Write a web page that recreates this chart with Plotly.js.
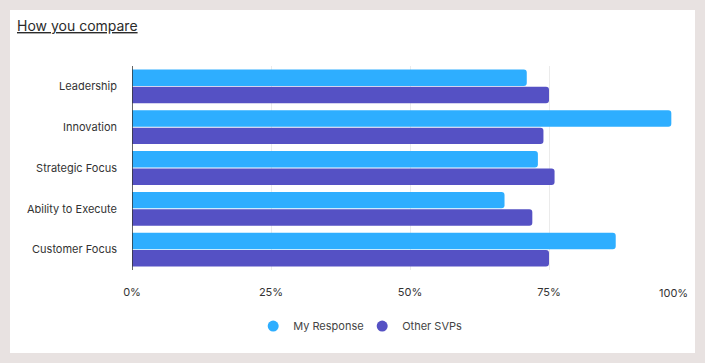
<!DOCTYPE html>
<html>
<head>
<meta charset="utf-8">
<script src="https://cdn.plot.ly/plotly-3.0.1.min.js"></script>
<style>
  html, body { margin: 0; padding: 0; background: #e8e2e1; width: 705px; height: 363px; overflow: hidden; }
  #card { position: absolute; left: 10px; top: 10px; width: 685px; height: 343px; background: #ffffff; }
  #chart { width: 685px; height: 343px; }
</style>
</head>
<body>
<div id="card"><div id="chart"></div></div>
<script>
const categories = ["Leadership", "Innovation", "Strategic Focus", "Ability to Execute", "Customer Focus"];
const myResponse = [71, 97, 73, 67, 87];
const otherSVPs = [75, 74, 76, 72, 75];
const tickVals = [0, 25, 50, 75, 100];
const tickText = ["0%", "25%", "50%", "75%", "100%"];
const seriesNames = ["My Response", "Other SVPs"];
const colors = ["#2eaeff", "#5551c4"];

const font = "Inter, 'DejaVu Sans', sans-serif";
const lastIdx = tickVals.length - 1;
// last tick label is drawn right-aligned at the axis end (as in the reference)
const shownTickText = tickText.map((t, i) => i === lastIdx ? "" : t);

const traces = [
  { type: "bar", orientation: "h", name: seriesNames[0], x: myResponse, y: categories,
    marker: { color: colors[0], cornerradius: 3 }, showlegend: false, hoverinfo: "skip" },
  { type: "bar", orientation: "h", name: seriesNames[1], x: otherSVPs, y: categories,
    marker: { color: colors[1], cornerradius: 3 }, showlegend: false, hoverinfo: "skip" },
  { type: "scatter", mode: "markers", name: seriesNames[0], x: [null], y: [null],
    marker: { color: colors[0], size: 11, symbol: "circle" }, showlegend: true },
  { type: "scatter", mode: "markers", name: seriesNames[1], x: [null], y: [null],
    marker: { color: colors[1], size: 11, symbol: "circle" }, showlegend: true }
];

const layout = {
  width: 685, height: 343,
  margin: { l: 122, r: 7, t: 56, b: 83 },
  paper_bgcolor: "#ffffff",
  plot_bgcolor: "#ffffff",
  font: { family: font, size: 11, color: "#333333" },
  barmode: "group",
  bargap: 0.15,
  bargroupgap: 0.05,
  showlegend: true,
  xaxis: {
    range: [0, 100], tickvals: tickVals, ticktext: shownTickText,
    showgrid: true, gridcolor: "#ebebeb", gridwidth: 1,
    zeroline: false, showline: false, ticks: "", ticklabelstandoff: 14,
    tickfont: { family: font, size: 11, color: "#333333" }, fixedrange: true
  },
  yaxis: {
    type: "category", autorange: "reversed",
    showgrid: false, zeroline: false, showline: false, ticks: "",
    ticklabelstandoff: 14,
    tickfont: { family: font, size: 11, color: "#333333" }, fixedrange: true
  },
  shapes: [
    { type: "line", xref: "x", yref: "paper", x0: 0, x1: 0, y0: 0, y1: 1,
      line: { color: "#333333", width: 1.5 } }
  ],
  legend: {
    orientation: "h", xref: "paper", yref: "paper",
    x: 0.414, xanchor: "center", y: -0.275, yanchor: "middle",
    font: { family: font, size: 11, color: "#444444" },
    entrywidth: 64, entrywidthmode: "pixels"
  },
  annotations: [
    { text: '<span style="text-decoration:underline">How you compare</span>',
      xref: "paper", yref: "paper", x: -117/556, y: 1 + 41/204,
      xanchor: "left", yanchor: "middle", showarrow: false,
      font: { family: font, size: 14, color: "#2b2b2b" } },
    { text: tickText[lastIdx], xref: "x", yref: "paper", x: tickVals[lastIdx], y: -23/204,
      xanchor: "right", yanchor: "middle", showarrow: false, xshift: 2,
      font: { family: font, size: 11, color: "#333333" } }
  ]
};

Plotly.newPlot("chart", traces, layout, { displayModeBar: false, staticPlot: true });
</script>
</body>
</html>
